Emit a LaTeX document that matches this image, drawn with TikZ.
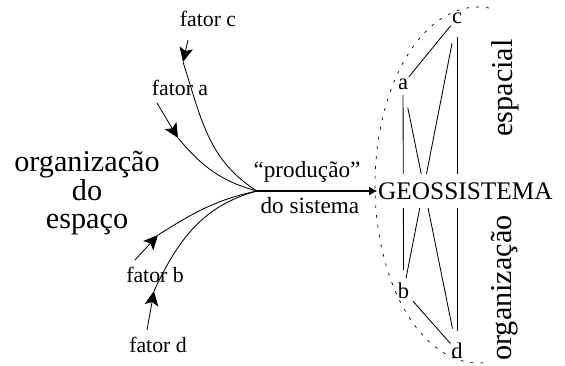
\documentclass[tikz,border=0pt]{standalone}
\usepackage{fontspec}
\setmainfont{Liberation Serif}
\usetikzlibrary{arrows.meta}

\tikzset{
  feed/.style={semithick,-{Stealth[length=3.6mm,width=3.4mm,inset=0.8mm]}},
  link/.style={semithick},
  vertex/.style={font=\fontsize{16}{16}\selectfont,inner sep=0pt},
  factor/.style={font=\fontsize{15.5}{16}\selectfont},
  bigtext/.style={font=\fontsize{21.5}{19.5}\selectfont,align=center},
}

\begin{document}
\begin{tikzpicture}
  \useasboundingbox (0,0) rectangle (14.125,9.125);

  \node[bigtext] (org) at (2.175,4.3) {organização\\do\\espaço};

  \node[factor] (fc) at (5.2,8.65) {fator c};
  \node[factor] (fa) at (4.5,6.925) {fator a};
  \node[factor] (fb) at (3.875,2.25) {fator b};
  \node[factor] (fd) at (3.95,0.5) {fator d};

  \coordinate (hub) at (6.425,4.35);
  \coordinate (c0) at (4.7,8.125);
  \coordinate (c1) at (4.575,7.575);
  \coordinate (a0) at (3.925,6.55);
  \coordinate (a1) at (4.45,5.675);
  \coordinate (b0) at (3.375,2.625);
  \coordinate (b1) at (3.95,3.25);
  \coordinate (d0) at (3.675,0.875);
  \coordinate (d1) at (3.85,1.85);

  \draw[feed] (c0) -- (c1);
  \draw[feed] (a0) -- (a1);
  \draw[feed] (b0) -- (b1);
  \draw[feed] (d0) -- (d1);

  \draw[semithick] (c1) to[out=-72,in=148] (hub);
  \draw[semithick] (a1) to[out=-50,in=165] (hub);
  \draw[semithick] (b1) to[out=32,in=192] (hub);
  \draw[semithick] (d1) to[out=65,in=195] (hub);

  \draw[line width=0.5pt,dash pattern=on 2pt off 5pt]
    (11.95,4.5) ++(84:2.575 and 4.45)
    arc[start angle=84,end angle=276,x radius=2.575,y radius=4.45];

  \node[vertex] (a) at (10.075,7.025) {a};
  \node[vertex] (c) at (11.425,8.675) {c};
  \node[vertex] (b) at (10.09,1.86) {b};
  \node[vertex] (d) at (11.425,0.35) {d};

  \draw[link,shorten <=0.23cm,shorten >=0.25cm] (a.center) -- (c.center);
  \draw[link,shorten <=0.28cm,shorten >=0.51cm] (a.center) -- (b.center);
  \draw[link,shorten <=0.6cm,shorten >=0.57cm] (a.center) -- (d.center);
  \draw[link,shorten <=0.64cm,shorten >=0.31cm] (c.center) -- (b.center);
  \draw[link,shorten <=0.48cm,shorten >=0.49cm] (c.center) -- (d.center);
  \draw[link,shorten <=0.35cm,shorten >=0.25cm] (b.center) -- (d.center);

  \node[fill=white,inner xsep=0.5pt,inner ysep=5.7pt,anchor=west,
    font=\fontsize{18}{18}\selectfont] (geo) at (9.43,4.35) {GEOSSISTEMA};

  \draw[line width=0.8pt,-{Latex[length=2mm,width=2.2mm]}] (hub) -- (geo)
    node[pos=.416,above=2.3pt,font=\fontsize{16.5}{17}\selectfont] (prod) {“produção”}
    node[pos=.44,below=0.9pt,font=\fontsize{16.5}{17}\selectfont] (sis) {do sistema};

  \node[bigtext,rotate=90] (esp) at (12.64,6.925) {espacial};
  \node[bigtext,rotate=90] (orgz) at (12.625,1.925) {organização};

\end{tikzpicture}
\end{document}
